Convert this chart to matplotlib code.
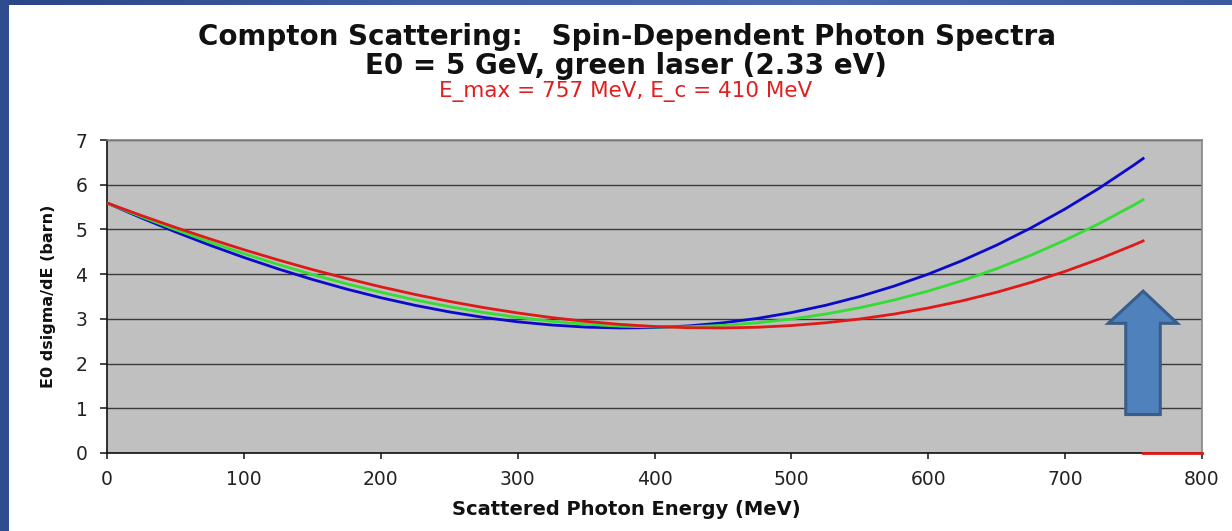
import numpy as np
import matplotlib
matplotlib.use("Agg")
import matplotlib.pyplot as plt
from matplotlib.patches import Polygon, Rectangle
from matplotlib.colors import LinearSegmentedColormap

plt.rcParams['font.family'] = ['DejaVu Sans']

# Scattered photon energy (MeV)
energy = [0, 25, 50, 75, 100, 125, 150, 175, 200, 225, 250, 275, 300, 325,
          350, 375, 400, 425, 450, 475, 500, 525, 550, 575, 600, 625, 650,
          675, 700, 725, 750, 757]

# E0 dsigma/dE (barn), parallel helicities
sigma_blue = [5.592, 5.259, 4.945, 4.649, 4.373, 4.117, 3.881, 3.666, 3.473,
              3.303, 3.156, 3.033, 2.934, 2.862, 2.815, 2.796, 2.805, 2.843,
              2.911, 3.009, 3.140, 3.303, 3.500, 3.732, 4.000, 4.306, 4.649,
              5.033, 5.458, 5.924, 6.435, 6.586]
# unpolarized
sigma_green = [5.592, 5.286, 4.995, 4.719, 4.460, 4.217, 3.992, 3.784, 3.595,
               3.424, 3.273, 3.143, 3.033, 2.945, 2.879, 2.836, 2.817, 2.823,
               2.854, 2.911, 2.995, 3.107, 3.249, 3.420, 3.622, 3.856, 4.122,
               4.423, 4.760, 5.132, 5.542, 5.664]
# antiparallel helicities
sigma_red = [5.592, 5.312, 5.045, 4.790, 4.547, 4.318, 4.103, 3.903, 3.717,
             3.546, 3.391, 3.253, 3.132, 3.028, 2.943, 2.876, 2.829, 2.802,
             2.796, 2.812, 2.850, 2.912, 2.997, 3.107, 3.243, 3.405, 3.595,
             3.814, 4.062, 4.340, 4.650, 4.742]

# beyond the kinematic edge the spectrum is zero
tail_energy = [757, 800]
tail_sigma = [0, 0]

x_ticks = [0, 100, 200, 300, 400, 500, 600, 700, 800]
y_ticks = [0, 1, 2, 3, 4, 5, 6, 7]

title_1 = "Compton Scattering:   Spin-Dependent Photon Spectra"
title_2 = "E0 = 5 GeV, green laser (2.33 eV)"
title_3 = "E_max = 757 MeV, E_c = 410 MeV"

W, H = 1232, 531
fig = plt.figure(figsize=(W / 100, H / 100), dpi=100)
fig.patch.set_facecolor('white')

# slide frame: left band and shaded top band
fig.patches.append(Rectangle((0, 0), 9 / W, 1, transform=fig.transFigure,
                             facecolor='#2F4C8F', edgecolor='none', zorder=0))
band = fig.add_axes([0, 1 - 5 / H, 1, 5 / H])
grad = np.linspace(0, 1, 256)[None, :]
band_cmap = LinearSegmentedColormap.from_list(
    'band', ['#2B4586', '#3F5EA3', '#4A6BB0', '#3A5A9E'])
band.imshow(grad, aspect='auto', cmap=band_cmap, extent=[0, 1, 0, 1])
band.set_axis_off()

ax = fig.add_axes([107 / W, 1 - 453 / H, (1202 - 107) / W, (453 - 140) / H])
ax.set_facecolor('#C0C0C0')
ax.set_xlim(0, 800)
ax.set_ylim(0, 7)
ax.set_xticks(x_ticks)
ax.set_yticks(y_ticks)

ax.yaxis.grid(True, color='#3A3A3A', linewidth=1.0)
ax.set_axisbelow(True)

ax.plot(energy, sigma_blue, color='#0A0ACC', lw=2.0, zorder=3)
ax.plot(energy, sigma_green, color='#33DD33', lw=2.0, zorder=3)
ax.plot(energy, sigma_red, color='#E01818', lw=2.0, zorder=4)
ax.plot(tail_energy, tail_sigma, color='#E01818', lw=2.0, zorder=6, clip_on=False)

# block arrow
arrow_pts = [(744.3, 0.86), (744.3, 2.90), (731.5, 2.90), (757.0, 3.62),
             (782.0, 2.90), (769.5, 2.90), (769.5, 0.86)]
ax.add_patch(Polygon(arrow_pts, closed=True, facecolor='#4F81BD',
                     edgecolor='#385D8A', linewidth=2.2, zorder=5))

for side in ('left', 'bottom'):
    ax.spines[side].set_color('#111111')
    ax.spines[side].set_linewidth(1.2)
for side in ('top', 'right'):
    ax.spines[side].set_color('#858585')
    ax.spines[side].set_linewidth(1.2)

ax.tick_params(axis='x', direction='out', length=4, width=1.1, pad=8,
               labelsize=13.5, colors='#111111', labelcolor='#222222')
ax.tick_params(axis='y', direction='out', length=5, width=1.1, pad=9,
               labelsize=13.5, colors='#111111', labelcolor='#222222')

ax.set_xlabel("Scattered Photon Energy (MeV)", fontsize=14,
              fontweight='bold', labelpad=8, color='#111111')
ax.xaxis.label.set_x(0.474)
ax.set_ylabel("E0 dsigma/dE (barn)", fontsize=11.5, fontweight='bold',
              labelpad=14, color='#111111')

fig.text(627 / W, 1 - 37 / H, title_1, ha='center', va='center',
         fontsize=20, fontweight='bold', color='#111111')
fig.text(626 / W, 1 - 66 / H, title_2, ha='center', va='center',
         fontsize=20, fontweight='bold', color='#111111')
fig.text(626 / W, 1 - 91 / H, title_3, ha='center', va='center',
         fontsize=15.5, color='#E02020')

fig.savefig('out.png', dpi=100, facecolor='white')
